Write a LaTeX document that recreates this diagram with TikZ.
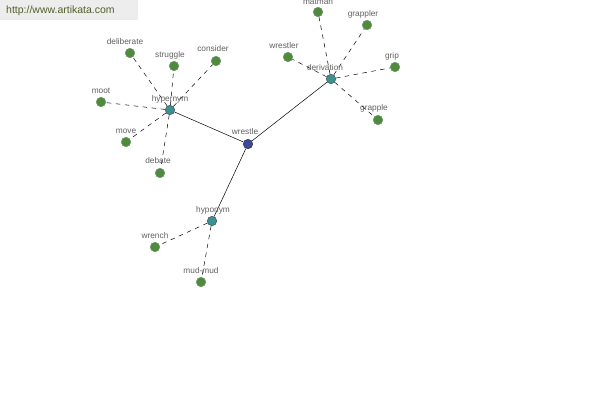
\documentclass[tikz,border=0pt]{standalone}
\usepackage{fontspec}
\setmainfont{Liberation Sans}
\pgfdeclarelayer{bg}
\pgfsetlayers{bg,main}
\begin{document}
\begin{tikzpicture}[x=1pt,y=-1pt,
  leaf/.style={circle,draw=black!70!green!60,fill={rgb,255:red,79;green,138;blue,63},minimum size=9.5pt,inner sep=0pt,line width=0.5pt},
  hub/.style={circle,draw=black!70,fill={rgb,255:red,58;green,146;blue,146},minimum size=9.5pt,inner sep=0pt,line width=0.5pt},
  root/.style={circle,draw=black!80,fill={rgb,255:red,60;green,74;blue,156},minimum size=9.5pt,inner sep=0pt,line width=0.5pt},
  lbl/.style={font=\fontsize{8.3}{9}\selectfont,text=black!62,inner sep=0.5pt},
  rel/.style={draw=black,line width=0.5pt},
  sub/.style={draw=black,line width=0.5pt,dash pattern=on 4.5pt off 4.5pt},
  url/.style={fill=black!7,draw=none,minimum width=138pt,minimum height=20pt,anchor=north west,inner sep=0pt},
  urltext/.style={font=\fontsize{10.5}{12}\selectfont,text={rgb,255:red,80;green,96;blue,40},anchor=west,inner sep=0pt}
]
\useasboundingbox (0,0) rectangle (600,400);
\begin{pgfonlayer}{bg}
\fill[white] (0,0) rectangle (600,400);
\end{pgfonlayer}
\node[url] (urlbox) at (0,0) {};
\node[urltext] (urltxt) at (6,11) {http://www.artikata.com};

% main nodes
\node[root] (wrestle) at (248,144) {};
\node[hub] (hypernym) at (170,110) {};
\node[hub] (derivation) at (331,79) {};
\node[hub] (hyponym) at (212,221) {};

% leaves
\node[leaf] (deliberate) at (130,53) {};
\node[leaf] (struggle) at (174,66) {};
\node[leaf] (consider) at (216,61) {};
\node[leaf] (moot) at (101,102) {};
\node[leaf] (move) at (126,142) {};
\node[leaf] (debate) at (160,173) {};
\node[leaf] (matman) at (318,12) {};
\node[leaf] (grappler) at (367,25) {};
\node[leaf] (wrestler) at (288,57) {};
\node[leaf] (grip) at (395,67) {};
\node[leaf] (grapple) at (378,120) {};
\node[leaf] (wrench) at (155,247) {};
\node[leaf] (mudmud) at (201,282) {};

% connectors
\begin{pgfonlayer}{bg}
\draw[rel] (wrestle) -- (hypernym);
\draw[rel] (wrestle) -- (derivation);
\draw[rel] (wrestle) -- (hyponym);
\foreach \n in {deliberate,struggle,consider,moot,move,debate}
  \draw[sub] (hypernym) -- (\n);
\foreach \n in {matman,grappler,wrestler,grip,grapple}
  \draw[sub] (derivation) -- (\n);
\foreach \n in {wrench,mudmud}
  \draw[sub] (hyponym) -- (\n);
\end{pgfonlayer}

% labels
\node[lbl] (l-wrestle) at (245,132) {wrestle};
\node[lbl] (l-hypernym) at (170,99) {hypernym};
\node[lbl] (l-derivation) at (325,68) {derivation};
\node[lbl] (l-hyponym) at (213,210) {hyponym};
\node[lbl] (l-deliberate) at (125,42) {deliberate};
\node[lbl] (l-struggle) at (170,55) {struggle};
\node[lbl] (l-consider) at (213,49) {consider};
\node[lbl] (l-moot) at (101,91) {moot};
\node[lbl] (l-move) at (126,131) {move};
\node[lbl] (l-debate) at (158,161) {debate};
\node[lbl] (l-matman) at (318,1.5) {matman};
\node[lbl] (l-grappler) at (363,14) {grappler};
\node[lbl] (l-wrestler) at (284,46) {wrestler};
\node[lbl] (l-grip) at (392,56) {grip};
\node[lbl] (l-grapple) at (374,108) {grapple};
\node[lbl] (l-wrench) at (155,236) {wrench};
\node[lbl] (l-mudmud) at (201,271) {mud-mud};
\end{tikzpicture}
\end{document}
